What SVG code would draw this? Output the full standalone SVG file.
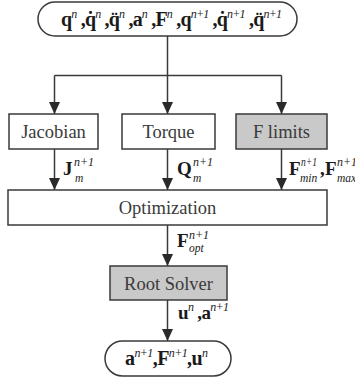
<svg xmlns="http://www.w3.org/2000/svg" width="355" height="383" viewBox="0 0 355 383" font-family="'Liberation Serif', 'Times New Roman', serif">
  <style>
    .box { fill: #ffffff; stroke: #3a3a3a; stroke-width: 1.5; }
    .gray { fill: #c9c9c9; }
    .lbl { font-size: 18.5px; fill: #3a3a3a; text-anchor: middle; }
    .math { font-weight: bold; fill: #1a1a1a; }
    .big { font-size: 20px; }
    .mid { font-size: 19px; }
    .sup { font-weight: normal; font-style: italic; font-size: 12px; }
    .sub { font-weight: normal; font-style: italic; font-size: 11.5px; }
    .wire { fill: none; stroke: #3a3a3a; stroke-width: 1.5; }
    .arrow { marker-end: url(#head); }
  </style>
  <defs>
    <marker id="head" markerUnits="userSpaceOnUse" markerWidth="12" markerHeight="12" refX="12" refY="5.5" orient="auto">
      <path d="M0,0 L12,5.5 L0,11 z" fill="#2a2a2a"/>
    </marker>
  </defs>

  <!-- connectors -->
  <g id="connectors">
    <path class="wire" d="M167.5,36 V75.5 M54.5,75.5 H281.5"/>
    <path class="wire arrow" d="M54.5,75.5 V114"/>
    <path class="wire arrow" d="M167.5,75.5 V114"/>
    <path class="wire arrow" d="M281.5,75.5 V114"/>
    <path class="wire arrow" d="M54.5,149 V190"/>
    <path class="wire arrow" d="M167.5,149 V190"/>
    <path class="wire arrow" d="M281.5,149 V190"/>
    <path class="wire arrow" d="M167.5,225 V266"/>
    <path class="wire arrow" d="M167.5,300 V341"/>
  </g>

  <!-- edge labels: base symbol, superscript and subscript in one text each -->
  <g id="edge-labels" class="math mid">
    <text x="63" y="175">J<tspan class="sup" x="74" y="166">n+1</tspan><tspan class="sub" x="75" y="182">m</tspan></text>
    <text x="177" y="175">Q<tspan class="sup" x="193" y="166">n+1</tspan><tspan class="sub" x="193" y="182">m</tspan></text>
    <text x="289" y="175">F<tspan class="sup" x="301" y="166" textLength="16" lengthAdjust="spacingAndGlyphs">n+1</tspan><tspan class="sub" x="300" y="182">min</tspan><tspan x="320" y="175">,</tspan><tspan x="325" y="175">F</tspan><tspan class="sup" x="337" y="166">n+1</tspan><tspan class="sub" x="337" y="182">max</tspan></text>
    <text x="177" y="247">F<tspan class="sup" x="189" y="239">n+1</tspan><tspan class="sub" x="189" y="252">opt</tspan></text>
    <text x="178" y="319" textLength="51" lengthAdjust="spacing">u<tspan class="sup" dy="-8">n</tspan><tspan dy="8"> ,</tspan>a<tspan class="sup" dy="-8">n+1</tspan></text>
  </g>

  <!-- input state -->
  <g id="input">
    <rect class="box" x="38" y="2" width="259" height="34" rx="17"/>
    <text class="math big" x="61" y="26" textLength="221" lengthAdjust="spacing">q<tspan class="sup" dy="-8">n</tspan><tspan dy="8"> ,</tspan>q&#775;<tspan class="sup" dy="-8">n</tspan><tspan dy="8"> ,</tspan>q&#776;<tspan class="sup" dy="-8">n</tspan><tspan dy="8"> ,</tspan>a<tspan class="sup" dy="-8">n</tspan><tspan dy="8"> ,</tspan>F<tspan class="sup" dy="-8">n</tspan><tspan dy="8"> ,</tspan>q<tspan class="sup" dy="-8">n+1</tspan><tspan dy="8"> ,</tspan>q&#775;<tspan class="sup" dy="-8">n+1</tspan><tspan dy="8"> ,</tspan>q&#776;<tspan class="sup" dy="-8">n+1</tspan></text>
  </g>

  <g id="jacobian">
    <rect class="box" x="9" y="114" width="89" height="35"/>
    <text class="lbl" x="53.5" y="138">Jacobian</text>
  </g>

  <g id="torque">
    <rect class="box" x="122" y="114" width="93" height="35"/>
    <text class="lbl" x="168.5" y="138">Torque</text>
  </g>

  <g id="f-limits">
    <rect class="box gray" x="236" y="114" width="91" height="35"/>
    <text class="lbl" x="281.5" y="138">F limits</text>
  </g>

  <g id="optimization">
    <rect class="box" x="8" y="190" width="319" height="35"/>
    <text class="lbl" x="167.5" y="214">Optimization</text>
  </g>

  <g id="root-solver">
    <rect class="box gray" x="110" y="266" width="117" height="34"/>
    <text class="lbl" x="168.5" y="289.5">Root Solver</text>
  </g>

  <!-- output state -->
  <g id="output">
    <rect class="box" x="105" y="341" width="126" height="35" rx="17.5"/>
    <text class="math big" x="125" y="365" textLength="83" lengthAdjust="spacing">a<tspan class="sup" dy="-8">n+1</tspan><tspan dy="8">,</tspan>F<tspan class="sup" dy="-8">n+1</tspan><tspan dy="8">,</tspan>u<tspan class="sup" dy="-8">n</tspan></text>
  </g>
</svg>
